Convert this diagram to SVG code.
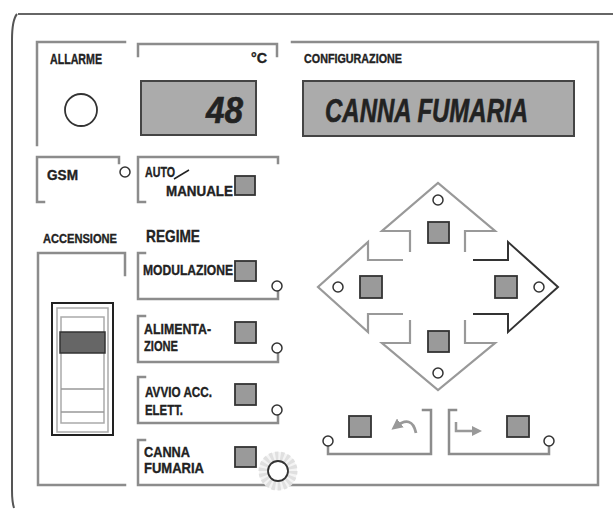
<svg xmlns="http://www.w3.org/2000/svg" width="616" height="510" viewBox="0 0 616 510">
<defs>
<style>
.frame{fill:none;stroke:#333;stroke-width:1.5}
.br{fill:none;stroke:#8c8c8c;stroke-width:2.5;stroke-linecap:square}
.arr{fill:none;stroke:#999;stroke-width:2.2;stroke-linejoin:miter}
.arrd{fill:none;stroke:#333;stroke-width:2;stroke-linejoin:miter}
.led{fill:#fff;stroke:#333;stroke-width:1.5}
.btn{fill:#9a9a9a;stroke:#333;stroke-width:1.8}
.disp{fill:#ababab;stroke:#444;stroke-width:2}
.t{font-family:"Liberation Sans",Arial,sans-serif;font-weight:bold;fill:#222;stroke:#222;stroke-width:0.35}
.big{font-family:"Liberation Sans",Arial,sans-serif;font-weight:bold;font-style:italic;fill:#222;stroke:#222;stroke-width:0.6}
</style>
<marker id="ah" viewBox="0 0 10 10" refX="6" refY="5" markerWidth="4" markerHeight="4" orient="auto">
<path d="M0 0 L10 5 L0 10 z" fill="#999"/>
</marker>
</defs>
<rect width="616" height="510" fill="#fff"/>
<g id="frame">
<line class="frame" x1="18" y1="14" x2="613" y2="14"/>
<path d="M17 14 Q12 20 12 40 L12 490 Q12 502 14 508" fill="none" stroke="#555" stroke-width="2"/>
</g>
<g id="connectors">
<path class="br" d="M125 42 L37 42 L37 145"/>
<path class="br" d="M138 56 L138 44 L277 44 L277 56"/>
<path class="br" d="M119 163 L119 157 L37 157 L37 202 L44 202"/>
<path class="br" d="M278 163 L278 157 L138 157 L138 202 L145 202"/>
<path class="br" d="M125 275 L125 253 L38 253 L38 485 L125 485"/>
<path class="br" d="M145 253 L138 253 L138 299 L278 299 L278 292"/>
<path class="br" d="M145 316 L138 316 L138 362 L278 362 L278 354"/>
<path class="br" d="M145 377 L138 377 L138 423 L278 423 L278 416"/>
<path class="br" d="M145 440 L138 440 L138 485 L270 485"/>
<path class="br" d="M292 42 L598 42 L598 485 L290 485"/>
<path class="br" d="M328 446 L328 454 L431 454 L431 410 L423 410"/>
<path class="br" d="M456 410 L449 410 L449 454 L549 454 L549 446"/>
</g>
<g id="allarme">
<text class="t" x="50" y="64" font-size="14" textLength="52" lengthAdjust="spacingAndGlyphs">ALLARME</text>
<circle cx="81" cy="110" r="16" fill="#fff" stroke="#333" stroke-width="1.8"/>
</g>
<g id="temperatura">
<text class="t" x="251" y="63" font-size="14" textLength="16" lengthAdjust="spacingAndGlyphs">°C</text>
<rect class="disp" x="141" y="81" width="115" height="54"/>
<text class="big" x="206" y="123" font-size="36" textLength="37" lengthAdjust="spacingAndGlyphs">48</text>
</g>
<g id="gsm">
<text class="t" x="47" y="180" font-size="14" textLength="31" lengthAdjust="spacingAndGlyphs">GSM</text>
<circle class="led" cx="125" cy="172" r="5"/>
</g>
<g id="auto-manuale">
<text class="t" x="145" y="177" font-size="14" textLength="30" lengthAdjust="spacingAndGlyphs">AUTO</text>
<line x1="174" y1="179" x2="189" y2="170" stroke="#222" stroke-width="1.5"/>
<text class="t" x="166" y="196" font-size="14" textLength="67" lengthAdjust="spacingAndGlyphs">MANUALE</text>
<rect class="btn" x="235" y="176" width="20" height="19"/>
</g>
<g id="accensione">
<text class="t" x="43" y="243" font-size="13" textLength="74" lengthAdjust="spacingAndGlyphs">ACCENSIONE</text>
<rect x="52" y="303" width="61" height="132" fill="#fff" stroke="#222" stroke-width="2"/>
<rect x="57" y="308" width="51" height="124" fill="none" stroke="#aaa" stroke-width="1.5"/>
<rect x="61" y="317" width="43" height="106" fill="none" stroke="#aaa" stroke-width="1.5"/>
<rect x="60" y="332" width="45" height="21" fill="#666" stroke="#333" stroke-width="1.5"/>
<line x1="61" y1="389" x2="104" y2="389" stroke="#999" stroke-width="1.5"/>
<line x1="61" y1="412" x2="104" y2="412" stroke="#999" stroke-width="1.5"/>
</g>
<g id="regime">
<text class="t" x="146" y="242" font-size="17" textLength="54" lengthAdjust="spacingAndGlyphs">REGIME</text>
</g>
<g id="modulazione">
<text class="t" x="143" y="275" font-size="15" textLength="90" lengthAdjust="spacingAndGlyphs">MODULAZIONE</text>
<rect class="btn" x="235" y="261" width="21" height="20"/>
<circle class="led" cx="277" cy="286" r="5"/>
</g>
<g id="alimentazione">
<text class="t" x="144" y="334" font-size="15" textLength="67" lengthAdjust="spacingAndGlyphs">ALIMENTA-</text>
<text class="t" x="144" y="351" font-size="15" textLength="34" lengthAdjust="spacingAndGlyphs">ZIONE</text>
<rect class="btn" x="235" y="322" width="21" height="21"/>
<circle class="led" cx="277" cy="348" r="5"/>
</g>
<g id="avvio">
<text class="t" x="145" y="397" font-size="15" textLength="67" lengthAdjust="spacingAndGlyphs">AVVIO ACC.</text>
<text class="t" x="145" y="415" font-size="15" textLength="38" lengthAdjust="spacingAndGlyphs">ELETT.</text>
<rect class="btn" x="235" y="384" width="21" height="21"/>
<circle class="led" cx="277" cy="410" r="5"/>
</g>
<g id="canna-fumaria">
<text class="t" x="144" y="457" font-size="15" textLength="46" lengthAdjust="spacingAndGlyphs">CANNA</text>
<text class="t" x="144" y="473" font-size="15" textLength="60" lengthAdjust="spacingAndGlyphs">FUMARIA</text>
<rect class="btn" x="235" y="447" width="21" height="20"/>
<circle cx="278" cy="471" r="19" fill="#f4f4f4"/>
<circle cx="278" cy="471" r="15" fill="none" stroke="#e0e0e0" stroke-width="9" stroke-dasharray="3 2.2"/>
<circle cx="278" cy="471" r="10" fill="#fff" stroke="#333" stroke-width="1.8"/>
</g>
<g id="configurazione">
<text class="t" x="304" y="63" font-size="12" textLength="98" lengthAdjust="spacingAndGlyphs">CONFIGURAZIONE</text>
<rect class="disp" x="303" y="81" width="271" height="55"/>
<text class="big" x="325" y="122" font-size="33" textLength="203" lengthAdjust="spacingAndGlyphs">CANNA FUMARIA</text>
</g>
<g id="su">
<path class="arr" d="M410 252 L410 231 L382 231 L438 183 L495 231 L465 231 L465 252"/>
<circle class="led" cx="438" cy="200" r="5"/>
<rect class="btn" x="428" y="222" width="21" height="21"/>
</g>
<g id="sinistra">
<path class="arr" d="M403 260 L368 260 L368 242 L318 287 L368 332 L368 314 L403 314"/>
<circle class="led" cx="338" cy="287" r="5"/>
<rect class="btn" x="360" y="276" width="22" height="22"/>
</g>
<g id="destra">
<path class="arrd" d="M473 260 L508 260 L508 242 L558 287 L508 332 L508 314 L473 314"/>
<circle class="led" cx="539" cy="287" r="5"/>
<rect class="btn" x="495" y="276" width="22" height="22"/>
</g>
<g id="giu">
<path class="arr" d="M410 320 L410 343 L382 343 L438 390 L495 343 L465 343 L465 320"/>
<circle class="led" cx="438" cy="373" r="5"/>
<rect class="btn" x="428" y="331" width="21" height="21"/>
</g>
<g id="indietro">
<circle class="led" cx="328" cy="441" r="5"/>
<rect class="btn" x="349" y="416" width="22" height="21"/>
<path d="M416 433 Q412 414 395 427" fill="none" stroke="#999" stroke-width="2.8" marker-end="url(#ah)"/>
</g>
<g id="avanti">
<path d="M456 422 L456 431 L478 431" fill="none" stroke="#999" stroke-width="2.5" marker-end="url(#ah)"/>
<rect class="btn" x="507" y="416" width="22" height="21"/>
<circle class="led" cx="549" cy="441" r="5"/>
</g>
</svg>
